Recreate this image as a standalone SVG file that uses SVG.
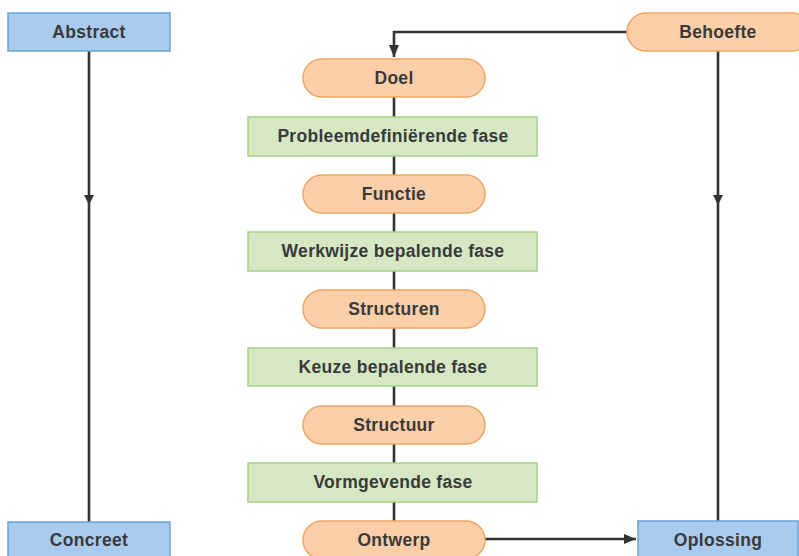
<svg xmlns="http://www.w3.org/2000/svg" width="799" height="556" viewBox="0 0 799 556">
  <style>
    .blue { fill: #a9cbee; stroke: #6da2d6; stroke-width: 1.5; }
    .orange { fill: #fccfa9; stroke: #eea664; stroke-width: 1.5; }
    .green { fill: #d5e8c3; stroke: #a6cf8b; stroke-width: 1.5; }
    .label { font-family: "Liberation Sans", Arial, sans-serif; font-size: 17.5px; font-weight: bold; fill: #3a3a3a; text-anchor: middle; letter-spacing: 0.3px; }
    .wire { fill: none; stroke: #333333; stroke-width: 2.6; }
  </style>
  <defs>
    <marker id="arrow" markerUnits="userSpaceOnUse" markerWidth="12" markerHeight="12" viewBox="0 0 12 12" refX="12" refY="6" orient="auto">
      <path d="M0,1 L12,6 L0,11 Z" fill="#333333"/>
    </marker>
    <marker id="arrowMid" markerUnits="userSpaceOnUse" markerWidth="10" markerHeight="12" viewBox="0 0 10 12" refX="5" refY="6" orient="auto">
      <path d="M0,1 L10,6 L0,11 Z" fill="#333333"/>
    </marker>
  </defs>

  <!-- connectors -->
  <g id="connectors">
    <polyline class="wire" points="89,51 89,200 89,522" marker-mid="url(#arrowMid)"/>
    <polyline class="wire" points="718,51 718,200 718,521" marker-mid="url(#arrowMid)"/>
    <polyline class="wire" points="627,32 394,32 394,57" marker-end="url(#arrow)"/>
    <line class="wire" x1="485" y1="539" x2="636" y2="539" marker-end="url(#arrow)"/>
    <line class="wire" x1="394" y1="97" x2="394" y2="117"/>
    <line class="wire" x1="394" y1="156" x2="394" y2="175"/>
    <line class="wire" x1="394" y1="213" x2="394" y2="232"/>
    <line class="wire" x1="394" y1="271" x2="394" y2="290"/>
    <line class="wire" x1="394" y1="328" x2="394" y2="348"/>
    <line class="wire" x1="394" y1="386" x2="394" y2="406"/>
    <line class="wire" x1="394" y1="444" x2="394" y2="463"/>
    <line class="wire" x1="394" y1="502" x2="394" y2="521"/>
  </g>

  <!-- side axis -->
  <g id="abstract">
    <rect class="blue" x="8" y="13" width="162" height="38"/>
    <text class="label" x="89" y="38">Abstract</text>
  </g>
  <g id="concreet">
    <rect class="blue" x="8" y="522" width="162" height="40"/>
    <text class="label" x="89" y="546">Concreet</text>
  </g>

  <!-- need and solution -->
  <g id="behoefte">
    <rect class="orange" x="627" y="13" width="184" height="38" rx="19"/>
    <text class="label" x="718" y="38">Behoefte</text>
  </g>
  <g id="oplossing">
    <rect class="blue" x="638" y="521" width="160" height="40"/>
    <text class="label" x="718" y="546">Oplossing</text>
  </g>

  <!-- design process column -->
  <g id="doel">
    <rect class="orange" x="303" y="59" width="182" height="38" rx="19"/>
    <text class="label" x="394" y="84">Doel</text>
  </g>
  <g id="probleemdefinierende-fase">
    <rect class="green" x="248" y="117" width="289" height="39"/>
    <text class="label" x="393" y="142">Probleemdefiniërende fase</text>
  </g>
  <g id="functie">
    <rect class="orange" x="303" y="175" width="182" height="38" rx="19"/>
    <text class="label" x="394" y="200">Functie</text>
  </g>
  <g id="werkwijze-bepalende-fase">
    <rect class="green" x="248" y="232" width="289" height="39"/>
    <text class="label" x="393" y="257">Werkwijze bepalende fase</text>
  </g>
  <g id="structuren">
    <rect class="orange" x="303" y="290" width="182" height="38" rx="19"/>
    <text class="label" x="394" y="315">Structuren</text>
  </g>
  <g id="keuze-bepalende-fase">
    <rect class="green" x="248" y="348" width="289" height="38"/>
    <text class="label" x="393" y="373">Keuze bepalende fase</text>
  </g>
  <g id="structuur">
    <rect class="orange" x="303" y="406" width="182" height="38" rx="19"/>
    <text class="label" x="394" y="431">Structuur</text>
  </g>
  <g id="vormgevende-fase">
    <rect class="green" x="248" y="463" width="289" height="39"/>
    <text class="label" x="393" y="488">Vormgevende fase</text>
  </g>
  <g id="ontwerp">
    <rect class="orange" x="303" y="521" width="182" height="38" rx="19"/>
    <text class="label" x="394" y="546">Ontwerp</text>
  </g>
</svg>
